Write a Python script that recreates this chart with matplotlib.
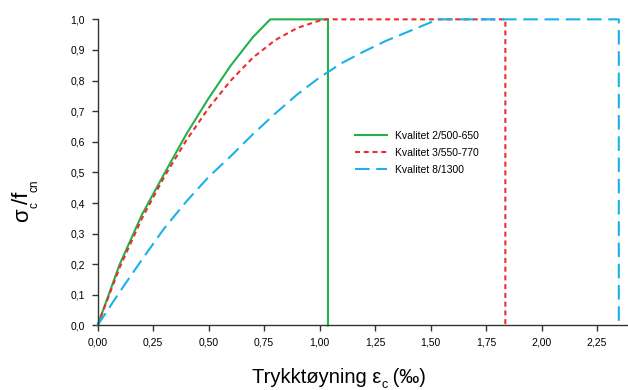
import matplotlib
matplotlib.use("Agg")
import matplotlib.pyplot as plt

# strain (permille) vs relative stress
eps_k2 = [0, 0.1, 0.2, 0.3, 0.4, 0.5, 0.6, 0.7, 0.778, 1.038, 1.038]
sig_k2 = [0, 0.2, 0.362, 0.495, 0.625, 0.742, 0.849, 0.942, 1.0, 1.0, 0.0]

eps_k3 = [0, 0.1, 0.2, 0.3, 0.4, 0.5, 0.6, 0.7, 0.8, 0.9, 1.0, 1.03, 1.837, 1.837]
sig_k3 = [0, 0.19, 0.35, 0.485, 0.605, 0.71, 0.80, 0.875, 0.932, 0.972, 0.996, 1.0, 1.0, 0.0]

eps_k8 = [0, 0.1, 0.2, 0.3, 0.4, 0.5, 0.6, 0.7, 0.8, 0.9, 1.0, 1.1, 1.2, 1.3, 1.4, 1.5, 1.53, 2.348, 2.348]
sig_k8 = [0, 0.11, 0.215, 0.317, 0.405, 0.485, 0.553, 0.625, 0.692, 0.755, 0.81, 0.857, 0.895, 0.93, 0.96, 0.99, 1.0, 1.0, 0.0]

labels = ["Kvalitet 2/500-650", "Kvalitet 3/550-770", "Kvalitet 8/1300"]
xticks = [0, 0.25, 0.5, 0.75, 1.0, 1.25, 1.5, 1.75, 2.0, 2.25]
yticks = [0, 0.1, 0.2, 0.3, 0.4, 0.5, 0.6, 0.7, 0.8, 0.9, 1.0]

plt.rcParams['font.family'] = ['Liberation Sans', 'DejaVu Sans']

W, H = 628, 390
fig = plt.figure(figsize=(W / 100, H / 100), dpi=100)
ax = fig.add_axes([0.1553, 0.1654, 0.8449, 0.785])

ax.plot(eps_k2, sig_k2, color='#22b24c', lw=1.5, label=labels[0], clip_on=False)
ax.plot(eps_k3, sig_k3, color='#ee2d2d', lw=1.5, dashes=(2.4, 1.8), label=labels[1], clip_on=False)
ax.plot(eps_k8, sig_k8, color='#1bb1e9', lw=1.5, dashes=(7, 3.2), label=labels[2], clip_on=False)

ax.set_xlim(0, 2.39)
ax.set_ylim(0, 1.0)
ax.set_xticks(xticks)
ax.set_xticklabels([f"{v:.2f}".replace('.', ',') for v in xticks])
ax.set_yticks(yticks)
ax.set_yticklabels([f"{v:.1f}".replace('.', ',') for v in yticks])

for s in ['top', 'right']:
    ax.spines[s].set_visible(False)
for s in ['left', 'bottom']:
    ax.spines[s].set_color('#333333')
    ax.spines[s].set_linewidth(1.0)
ax.tick_params(direction='out', length=4, width=1, color='#333333', labelsize=7.5, pad=5)

ax.legend(loc='upper left', bbox_to_anchor=(0.4853, 0.635), frameon=False,
          fontsize=7.5, handlelength=3.1, handletextpad=0.75, labelspacing=0.65,
          borderpad=0, borderaxespad=0)


# axis titles with low-set subscripts, built piece by piece (pixel coords)
# each piece: text, size, baseline shift, how much of its width to advance
def place(pieces, x0, y0, rot):
    r = fig.canvas.get_renderer()
    pos = x0 if rot == 0 else y0
    for s, size, off, adv in pieces:
        if rot == 0:
            t = fig.text(pos / W, (y0 + off) / H, s, fontsize=size,
                         ha='left', va='baseline')
            pos += t.get_window_extent(r).width * adv
        else:
            t = fig.text((x0 - off) / W, pos / H, s, fontsize=size, rotation=90,
                         rotation_mode='anchor', ha='left', va='baseline')
            pos += t.get_window_extent(r).height * adv


place([("σ", 16, 0, 1), ("c", 8.5, -9, 0.75), ("/f", 16, 0, 1), ("cn", 8.5, -9, 1)],
      28, H - 222, 90)
place([("Trykktøyning ε", 14.5, 0, 1), ("c", 9, -5, 1), (" (‰)", 14.5, 0, 1)], 252, 7, 0)

fig.savefig('out.png', dpi=100)
